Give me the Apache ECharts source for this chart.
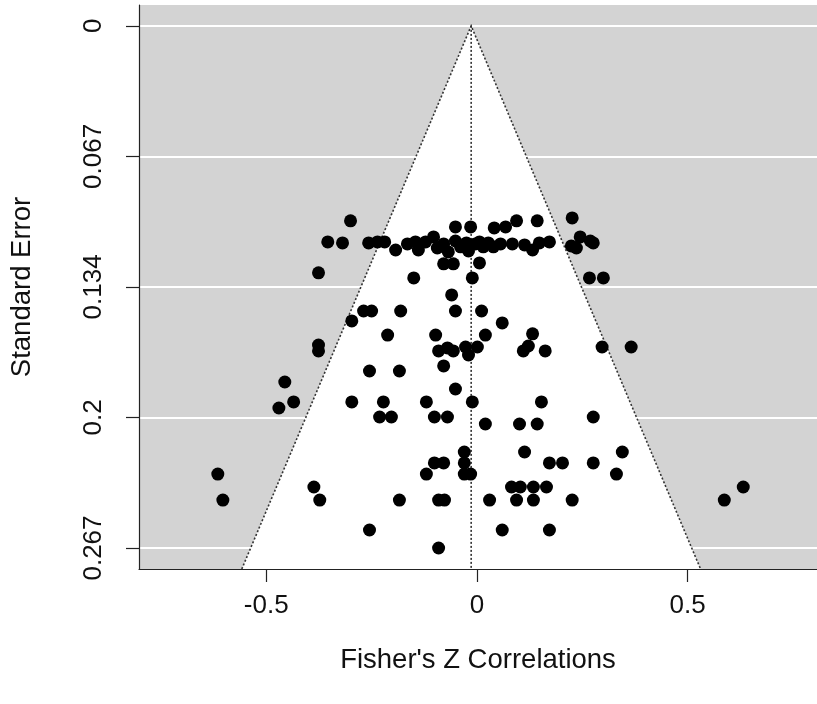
<!DOCTYPE html>
<html>
<head>
<meta charset="utf-8">
<script src="https://cdn.jsdelivr.net/npm/echarts@6/dist/echarts.min.js"></script>
<style>
html,body{margin:0;padding:0;background:#fff;}
#chart{width:817px;height:704px;}
</style>
</head>
<body>
<div id="chart"></div>
<script>
// Fisher's Z correlation of each study
const zValues = [
 -0.300, 0.226, -0.354, -0.319, -0.257, -0.236, -0.219, -0.193, -0.165, -0.146,
 -0.139, -0.122, -0.103, -0.094, -0.079, -0.068, -0.051, -0.039, -0.025, -0.020,
 -0.004, 0.006, 0.015, 0.027, 0.039, 0.056, -0.051, -0.015, 0.041, 0.068,
 0.094, 0.143, 0.084, 0.113, 0.132, 0.148, 0.172, 0.224, 0.236, 0.245,
 0.269, 0.276, -0.376, -0.079, -0.056, 0.006, -0.150, -0.011, 0.267, 0.300,
 -0.060, -0.269, -0.250, -0.181, -0.051, 0.011, -0.297, 0.060, -0.212, -0.098,
 0.020, 0.132, -0.376, -0.376, -0.091, -0.070, -0.056, -0.027, -0.020, 0.001,
 0.122, 0.110, 0.162, 0.297, 0.366, -0.079, -0.255, -0.184, -0.456, -0.051,
 -0.435, -0.470, -0.297, -0.222, -0.120, -0.011, 0.153, -0.231, -0.203, -0.101,
 -0.070, 0.276, 0.020, 0.101, 0.143, -0.030, 0.113, 0.345, -0.101, -0.079,
 -0.030, 0.172, 0.203, 0.276, -0.615, -0.120, -0.030, -0.015, 0.331, -0.387,
 0.082, 0.103, 0.134, 0.165, 0.632, -0.603, -0.373, -0.184, -0.091, -0.077,
 0.030, 0.094, 0.134, 0.226, 0.587, -0.255, 0.060, 0.172, -0.091
];
// Standard error of each study
const seValues = [
 0.0997, 0.0982, 0.1105, 0.1110, 0.1110, 0.1105, 0.1105, 0.1146, 0.1115, 0.1105,
 0.1146, 0.1105, 0.1079, 0.1136, 0.1115, 0.1156, 0.1100, 0.1130, 0.1110, 0.1151,
 0.1115, 0.1105, 0.1130, 0.1110, 0.1130, 0.1115, 0.1028, 0.1028, 0.1033, 0.1028,
 0.0997, 0.0997, 0.1115, 0.1120, 0.1146, 0.1110, 0.1105, 0.1125, 0.1136, 0.1079,
 0.1100, 0.1110, 0.1263, 0.1217, 0.1217, 0.1212, 0.1289, 0.1289, 0.1289, 0.1289,
 0.1376, 0.1458, 0.1458, 0.1458, 0.1458, 0.1458, 0.1509, 0.1519, 0.1581, 0.1581,
 0.1581, 0.1575, 0.1632, 0.1662, 0.1662, 0.1647, 0.1662, 0.1642, 0.1683, 0.1642,
 0.1637, 0.1662, 0.1662, 0.1642, 0.1642, 0.1739, 0.1765, 0.1765, 0.1821, 0.1857,
 0.1923, 0.1954, 0.1923, 0.1923, 0.1923, 0.1923, 0.1923, 0.2000, 0.2000, 0.2000,
 0.2000, 0.2000, 0.2036, 0.2036, 0.2036, 0.2179, 0.2179, 0.2179, 0.2235, 0.2235,
 0.2235, 0.2235, 0.2235, 0.2235, 0.2292, 0.2292, 0.2292, 0.2292, 0.2292, 0.2358,
 0.2358, 0.2358, 0.2358, 0.2358, 0.2358, 0.2425, 0.2425, 0.2425, 0.2425, 0.2425,
 0.2425, 0.2425, 0.2425, 0.2425, 0.2425, 0.2578, 0.2578, 0.2578, 0.2670
];
// Axis tick positions and labels
const xTickValues = [-0.5, 0, 0.5];
const xTickLabels = ['-0.5', '0', '0.5'];
const yTickValues = [0, 0.06675, 0.1335, 0.20025, 0.267];
const yTickLabels = ['0', '0.067', '0.134', '0.2', '0.267'];
// Axis ranges
const xRange = [-0.802, 0.807];
const yRange = [-0.01068, 0.27774];
// Funnel: pooled estimate and critical value
const pooledEstimate = -0.0137;
const critValue = 1.96;

const points = zValues.map((z, i) => [z, seValues[i]]);
const seBottom = yRange[1];
const funnelPts = [
  [pooledEstimate - critValue * seBottom, seBottom],
  [pooledEstimate, 0],
  [pooledEstimate + critValue * seBottom, seBottom]
];

const FONT = '"Liberation Sans", Arial, sans-serif';
const chart = echarts.init(document.getElementById('chart'), null, {renderer: 'canvas'});
chart.setOption({
  animation: false,
  backgroundColor: '#ffffff',
  grid: {
    left: 138, right: 0, top: 5, bottom: 135,
    show: true, backgroundColor: '#d3d3d3', borderWidth: 0
  },
  xAxis: {
    type: 'value',
    min: xRange[0], max: xRange[1],
    name: "Fisher's Z Correlations",
    nameLocation: 'middle',
    nameGap: 77,
    nameTextStyle: {fontFamily: FONT, fontSize: 27.5, color: '#111'},
    axisLine: {show: true, onZero: false, lineStyle: {color: '#222', width: 1.2}},
    axisTick: {show: true, inside: false, length: 13, customValues: xTickValues, lineStyle: {color: '#222', width: 1.2}},
    axisLabel: {
      show: true, margin: 24, customValues: xTickValues,
      fontFamily: FONT, fontSize: 26, color: '#111',
      formatter: v => { const i = xTickValues.findIndex(t => Math.abs(t - v) < 1e-9); return i >= 0 ? xTickLabels[i] : ''; }
    },
    splitLine: {show: false}
  },
  yAxis: {
    type: 'value',
    inverse: true,
    min: yRange[0], max: yRange[1],
    name: 'Standard Error',
    nameLocation: 'middle',
    nameRotate: 90,
    nameGap: 103,
    nameTextStyle: {fontFamily: FONT, fontSize: 27.5, color: '#111'},
    axisLine: {show: true, onZero: false, lineStyle: {color: '#222', width: 1.2}},
    axisTick: {show: true, inside: false, length: 13, customValues: yTickValues, lineStyle: {color: '#222', width: 1.2}},
    axisLabel: {
      show: true, margin: 32, rotate: 90, customValues: yTickValues,
      fontFamily: FONT, fontSize: 26, color: '#111',
      formatter: v => { const i = yTickValues.findIndex(t => Math.abs(t - v) < 1e-9); return i >= 0 ? yTickLabels[i] : ''; }
    },
    splitLine: {show: true, lineStyle: {color: '#ffffff', width: 2}}
  },
  series: [
    {
      type: 'custom',
      z: 1,
      clip: true,
      silent: true,
      data: [0],
      renderItem: (params, api) => {
        const p = funnelPts.map(pt => api.coord(pt));
        const top = api.coord([pooledEstimate, 0]);
        const bot = api.coord([pooledEstimate, seBottom]);
        const dashed = {stroke: '#333', lineWidth: 1.6, lineDash: [2, 2], fill: null};
        return {
          type: 'group',
          children: [
            {type: 'polygon', shape: {points: p}, style: {fill: '#ffffff', stroke: null}},
            {type: 'polyline', shape: {points: p}, style: dashed},
            {type: 'line', shape: {x1: top[0], y1: top[1], x2: bot[0], y2: bot[1]}, style: dashed}
          ]
        };
      }
    },
    {
      type: 'scatter',
      z: 3,
      data: points,
      symbol: 'circle',
      symbolSize: 13,
      itemStyle: {color: '#000000', borderWidth: 0, opacity: 1}
    }
  ]
});
</script>
</body>
</html>
